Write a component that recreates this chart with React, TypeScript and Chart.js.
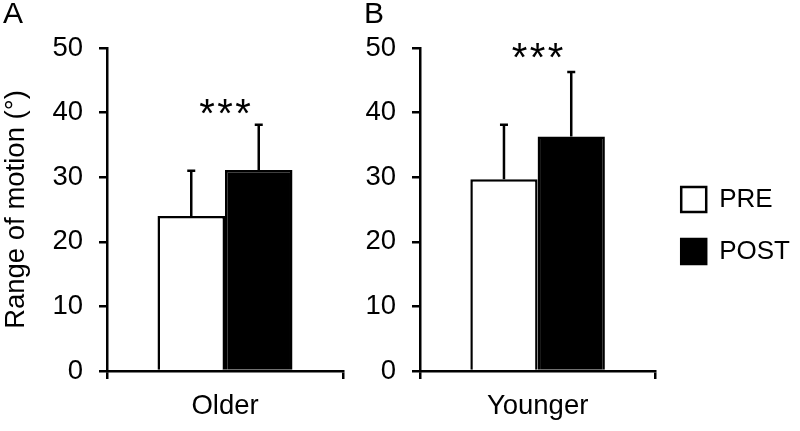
import React, { useEffect, useRef } from "react";
import { Chart, registerables } from "chart.js";

Chart.register(...registerables);

// ---- data ----
const seriesLabels = ["PRE", "POST"];
const panelLetters = ["A", "B"];
const groupCategories = ["Older", "Younger"];
const preMeans = [24.0, 29.7];
const postMeans = [31.1, 36.3];
const preSD = [7.0, 8.4];
const postSD = [7.0, 10.0];
const sigMarks = ["***", "***"];
const sigLevels = [40.8, 49.5];
const yTicks = [0, 10, 20, 30, 40, 50];
const yTitle = "Range of motion (°)";

const FONT = "'Liberation Sans', Arial, sans-serif";

const errorBarPlugin = {
  id: "errorBars",
  afterDatasetsDraw(chart: any) {
    const ctx = chart.ctx;
    const yScale = chart.scales.y;
    ctx.save();
    ctx.strokeStyle = "#000";
    ctx.lineWidth = 2.5;
    chart.data.datasets.forEach((ds: any, i: number) => {
      const meta = chart.getDatasetMeta(i);
      meta.data.forEach((bar: any, j: number) => {
        const v = ds.data[j];
        const e = ds.errors[j];
        const yTop = yScale.getPixelForValue(v + e);
        const yBase = yScale.getPixelForValue(v);
        ctx.beginPath();
        ctx.moveTo(bar.x, yBase);
        ctx.lineTo(bar.x, yTop);
        ctx.moveTo(bar.x - 4, yTop);
        ctx.lineTo(bar.x + 4, yTop);
        ctx.stroke();
      });
    });
    ctx.restore();
  },
};

const sigPlugin = {
  id: "sigMarks",
  afterDraw(chart: any, _args: any, opts: any) {
    const ctx = chart.ctx;
    const x = chart.scales.x.getPixelForValue(0);
    const y = chart.scales.y.getPixelForValue(opts.level);
    const text: string = opts.text;
    const fs = 40;
    const gap = 18;
    ctx.save();
    ctx.fillStyle = "#000";
    ctx.font = `${fs}px ${FONT}`;
    ctx.textAlign = "center";
    ctx.textBaseline = "alphabetic";
    const n = text.length;
    for (let k = 0; k < n; k++) {
      const cx = x + (k - (n - 1) / 2) * gap;
      ctx.fillText(text[k], cx, y + fs * 0.49);
    }
    ctx.restore();
  },
};

function makeConfig(idx: number) {
  const isA = idx === 0;
  const cfg: any = {
    type: "bar",
    data: {
      labels: [groupCategories[idx]],
      datasets: [
        {
          label: seriesLabels[0],
          data: [preMeans[idx]],
          errors: [preSD[idx]],
          backgroundColor: "#ffffff",
          borderColor: "#000000",
          borderWidth: 2.5,
          borderSkipped: "bottom",
        },
        {
          label: seriesLabels[1],
          data: [postMeans[idx]],
          errors: [postSD[idx]],
          backgroundColor: "#000000",
          borderColor: "#000000",
          borderWidth: 2.5,
          borderSkipped: "bottom",
        },
      ],
    },
    plugins: [errorBarPlugin, sigPlugin],
    options: {
      responsive: false,
      animation: false,
      events: [],
      layout: {
        padding: isA
          ? { left: 3, right: 17, top: 0, bottom: 0 }
          : { left: 14, right: 0, top: 0, bottom: 0 },
      },
      datasets: { bar: { barPercentage: 1, categoryPercentage: 0.572 } },
      plugins: {
        sigMarks: { level: sigLevels[idx], text: sigMarks[idx] },
        tooltip: { enabled: false },
        title: {
          display: true,
          text: panelLetters[idx],
          align: "start",
          color: "#000",
          font: { family: FONT, size: 30, weight: "normal", lineHeight: 1 },
          padding: { top: 0, bottom: 18 },
        },
        legend: isA
          ? { display: false }
          : {
              display: true,
              position: "right",
              align: "center",
              maxWidth: 300,
              title: {
                display: true,
                text: " ",
                font: { family: FONT, size: 10, lineHeight: 1 },
                padding: { top: 5, bottom: 5 },
              },
              labels: {
                boxWidth: 25,
                boxHeight: 25,
                padding: 26,
                color: "#000",
                font: { family: FONT, size: 26, lineHeight: 16 / 26 },
              },
            },
      },
      scales: {
        x: {
          type: "category",
          offset: true,
          grid: {
            display: true,
            drawOnChartArea: false,
            drawTicks: true,
            tickLength: 8,
            color: "#000",
            lineWidth: 2.5,
            offset: true,
          },
          border: { display: true, color: "#000", width: 2.5 },
          ticks: {
            color: "#000",
            padding: 11,
            font: { family: FONT, size: 27.5 },
          },
          afterFit(scale: any) {
            scale.height = 60;
          },
        },
        y: {
          min: 0,
          max: 50,
          afterBuildTicks(scale: any) {
            scale.ticks = yTicks.map((v) => ({ value: v }));
          },
          grid: {
            display: true,
            drawOnChartArea: false,
            drawTicks: true,
            tickLength: 8,
            color: "#000",
            lineWidth: 2.5,
          },
          border: { display: true, color: "#000", width: 2.5 },
          ticks: {
            color: "#000",
            padding: 16,
            font: { family: FONT, size: 27.5 },
          },
          title: {
            display: isA,
            text: yTitle,
            color: "#000",
            font: { family: FONT, size: 27.5, lineHeight: 1 },
            padding: 0,
          },
          afterFit(scale: any) {
            scale.width = isA ? 104 : 56;
          },
        },
      },
    },
  };
  return cfg;
}

function Panel({ idx, left, width }: { idx: number; left: number; width: number }) {
  const ref = useRef<HTMLCanvasElement | null>(null);
  useEffect(() => {
    if (!ref.current) return;
    const chart = new Chart(ref.current, makeConfig(idx));
    return () => chart.destroy();
  }, [idx]);
  return (
    <canvas
      ref={ref}
      width={width}
      height={431}
      style={{ position: "absolute", left, top: 0, width, height: 431 }}
    />
  );
}

export default function App() {
  return (
    <div
      style={{
        position: "absolute",
        left: 0,
        top: 0,
        width: 800,
        height: 431,
        background: "#fff",
        overflow: "hidden",
      }}
    >
      <Panel idx={0} left={0} width={360} />
      <Panel idx={1} left={350} width={450} />
    </div>
  );
}
